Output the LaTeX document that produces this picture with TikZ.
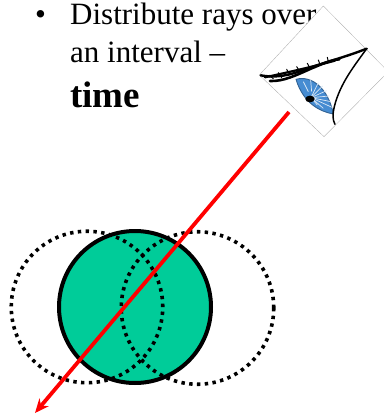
\documentclass[tikz,border=0pt]{standalone}
\usepackage{fontspec}
\setmainfont{Liberation Serif}
\usetikzlibrary{arrows.meta}
\definecolor{discgreen}{RGB}{0,204,153}
\definecolor{irisblue}{RGB}{70,140,210}
\tikzset{
  ghost/.style={draw=black,line width=3.6pt,dash pattern=on 3.4pt off 4.4pt},
  disc/.style={draw=black,line width=4pt,fill=discgreen},
  bodytext/.style={anchor=base west,inner sep=0pt,font=\fontsize{31}{31}\selectfont},
  ray/.style={draw=red,line width=3.8pt,-{Stealth[length=14pt,width=12pt]}},
  lid/.style={draw=black,line cap=round,line join=round},
}
\begin{document}
\begin{tikzpicture}[x=1pt,y=-1pt]
\useasboundingbox (0,0) rectangle (383,417);
\fill[white] (0,0) rectangle (383,417);
% text
\node[bodytext] (bullet) at (35,25) {•};
\node[bodytext] (l1) at (70,25) {Distribute rays over};
\node[bodytext] (l2) at (70,63) {an interval –};
\node[bodytext,font=\fontsize{37}{37}\selectfont\bfseries] (l3) at (70,107) {time};
% circles
\node[disc,circle,minimum size=152pt,inner sep=0pt] (main) at (135,307) {};
\node[ghost,circle,minimum size=151.5pt,inner sep=0pt] (left) at (87,307) {};
\node[ghost,circle,minimum size=152.5pt,inner sep=0pt] (right) at (197.5,308) {};
% eye
\begin{scope}[shift={(240,0)},x=0.3333pt,y=-0.3333pt]
  \fill[white] (250,18) -- (58,225) -- (252,410) -- (445,215) -- cycle;
  \draw[black!35,line width=0.3pt] (250,18) -- (58,225) -- (252,410) -- (445,215) -- cycle;
  \fill[irisblue] (168,238) .. controls (215,225) and (265,265) .. (280,342)
     .. controls (240,335) and (190,310) .. (168,238) -- cycle;
  \draw[lid,line width=0.9pt,irisblue!70!black] (168,238) .. controls (215,225) and (265,265) .. (280,342)
     .. controls (240,335) and (190,310) .. (168,238) -- cycle;
  \foreach \a/\b in {235/248,248/258,260/272,268/288,273/305,276/322,250/325,232/315}
    \draw[white!80!irisblue,line width=0.7pt] (213,293) -- (\a,\b);
  \draw[white!80!irisblue,line width=0.7pt] (205,275) -- (190,245);
  \draw[white!80!irisblue,line width=0.7pt] (215,275) -- (212,240);
  \fill[black] (210,297) ellipse [x radius=14,y radius=10];
  \draw[lid,line width=2.4pt] (62,226) .. controls (110,235) and (150,225) .. (190,210)
     .. controls (260,185) and (320,170) .. (380,146);
  \draw[lid,line width=2.6pt] (90,243) .. controls (130,245) and (170,225) .. (215,205)
     .. controls (240,195) and (270,180) .. (298,178);
  \draw[lid,line width=2.2pt] (75,232) .. controls (120,222) and (200,205) .. (285,182);
  \foreach \a/\b/\c/\d in {100/236/88/226,125/233/115/218,150/225/140/208,180/215/170/200,210/205/202/190,240/193/235/180,265/185/262/172}
    \draw[lid,line width=1pt] (\a,\b) -- (\c,\d);
  \draw[lid,line width=1.5pt] (380,146) .. controls (345,195) and (300,250) .. (283,320)
     .. controls (277,345) and (278,360) .. (285,373);
\end{scope}
% ray
\coordinate (rayfrom) at (289,112);
\coordinate (rayto) at (35,413);
\draw[ray] (rayfrom) -- (rayto);
\end{tikzpicture}
\end{document}
